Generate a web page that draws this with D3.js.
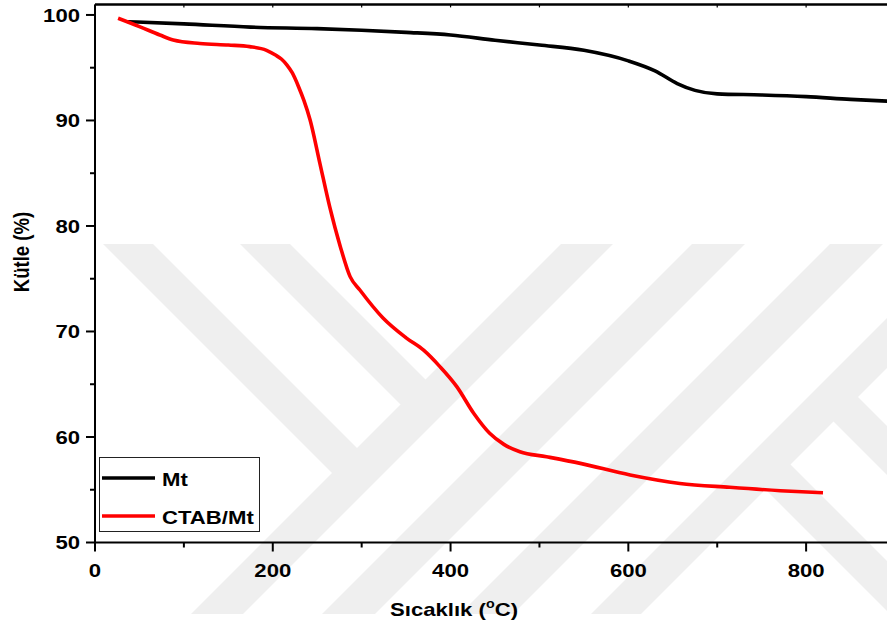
<!DOCTYPE html>
<html>
<head>
<meta charset="utf-8">
<script src="https://cdn.jsdelivr.net/npm/d3@7"></script>
<style>
  html, body { margin: 0; padding: 0; background: #fff; }
  svg { display: block; font-family: "Liberation Sans", Arial, sans-serif; font-weight: bold; }
</style>
</head>
<body>
<svg id="chart" width="887" height="628"></svg>
<script>
// TGA curves: temperature (°C) vs remaining mass (%)
const mtTemp = [37, 100, 175, 250, 300, 350, 400, 450, 500, 550, 600, 630, 655, 675, 700, 750, 800, 850, 900];
const mtMass = [99.36, 99.15, 98.85, 98.7, 98.55, 98.35, 98.1, 97.6, 97.15, 96.65, 95.65, 94.7, 93.5, 92.85, 92.52, 92.42, 92.26, 92.0, 91.8];

const ctabTemp = [26, 50, 73, 88, 118, 150, 174, 193, 203, 210, 216, 222, 229, 235, 242, 253, 264, 276, 287, 298, 324, 350, 370, 388, 407, 426, 444, 460, 478, 508, 546, 602, 658, 714, 771, 819];
const ctabMass = [99.69, 98.9, 98.1, 97.63, 97.3, 97.15, 97.0, 96.65, 96.2, 95.8, 95.25, 94.5, 93.2, 91.9, 90.05, 85.94, 81.83, 78.04, 75.2, 73.93, 71.28, 69.4, 68.2, 66.67, 64.77, 62.25, 60.35, 59.3, 58.6, 58.13, 57.5, 56.4, 55.6, 55.23, 54.91, 54.72];

const seriesNames = ["Mt", "CTAB/Mt"];
const seriesColors = ["#000000", "#ff0000"];

const xMajorTicks = [0, 200, 400, 600, 800];
const xMinorTicks = [100, 300, 500, 700];
const yMajorTicks = [50, 60, 70, 80, 90, 100];
const yMinorTicks = [55, 65, 75, 85, 95];

const xTitle = "Sıcaklık (";
const yTitle = "Kütle (%)";

const svg = d3.select("#chart");

const plotL = 95, plotT = 4.4, plotB = 542.5, plotR = 895;
const x = d3.scaleLinear().domain([0, 900]).range([plotL, plotR]);
const y = d3.scaleLinear().domain([50, 101]).range([plotB, plotT]);

// the lettering is a wide bold face: Arial bold stretched horizontally
const FS = 18.6, WIDE = 1.19;
function wideText(parent, px, py, anchor) {
  return parent.append("text")
    .attr("transform", `translate(${px},${py}) scale(${WIDE},1)`)
    .attr("text-anchor", anchor).attr("font-size", FS);
}

// faint background watermark of diagonal bands
const wm = svg.append("g").attr("fill", "#efefef");
const wy0 = 244, wy1 = 614;
// "/" bands given by x + y = c0 .. c1
[[805, 857], [936, 989], [1074, 1127], [1205, 1255]].forEach(([c0, c1]) => {
  wm.append("polygon").attr("points", [[c0 - wy0, wy0], [c1 - wy0, wy0], [c1 - wy1, wy1], [c0 - wy1, wy1]].join(" "));
});
// "\" bands x - y = k0 .. k1 between two "/" lines
function backBand(k0, k1, cStart, cEnd) {
  const p = (k, c) => [(k + c) / 2, (c - k) / 2];
  return [p(k0, cStart), p(k1, cStart), p(k1, cEnd), p(k0, cEnd)];
}
[[-141, -91], [-4, 46]].forEach(([k0, k1]) => {
  const ptsTop = [[k0 + wy0, wy0], [k1 + wy0, wy0]];
  const ptsEnd = [[(k1 + 857) / 2, (857 - k1) / 2], [(k0 + 805) / 2, (805 - k0) / 2]];
  wm.append("polygon").attr("points", ptsTop.concat(ptsEnd).join(" "));
});
[[276, 326], [412, 461]].forEach(([k0, k1]) => {
  wm.append("polygon").attr("points", backBand(k0, k1, 1230, 1560).join(" "));
});

// axes frame lines
const axisG = svg.append("g").attr("stroke", "#000").attr("stroke-width", 2);
axisG.append("line").attr("x1", plotL).attr("x2", plotL).attr("y1", plotT).attr("y2", plotB);
axisG.append("line").attr("x1", plotL).attr("x2", plotR).attr("y1", plotB).attr("y2", plotB);
axisG.append("line").attr("x1", plotL).attr("x2", plotR).attr("y1", plotT).attr("y2", plotT).attr("stroke-width", 2.5);

// tick marks
axisG.selectAll(".yt").data(yMajorTicks).join("line")
  .attr("x1", plotL - 9).attr("x2", plotL).attr("y1", d => y(d)).attr("y2", d => y(d));
axisG.selectAll(".ytm").data(yMinorTicks).join("line")
  .attr("x1", plotL - 5).attr("x2", plotL).attr("y1", d => y(d)).attr("y2", d => y(d));
axisG.selectAll(".xt").data(xMajorTicks).join("line")
  .attr("x1", d => x(d)).attr("x2", d => x(d)).attr("y1", plotB).attr("y2", plotB + 9);
axisG.selectAll(".xtm").data(xMinorTicks).join("line")
  .attr("x1", d => x(d)).attr("x2", d => x(d)).attr("y1", plotB).attr("y2", plotB + 5);
axisG.selectAll(".xtt").data(xMajorTicks.concat(xMinorTicks)).join("line")
  .attr("stroke-width", 1.2)
  .attr("x1", d => x(d)).attr("x2", d => x(d)).attr("y1", plotT).attr("y2", plotT + 3);

// tick labels
yMajorTicks.forEach(v => {
  wideText(svg, plotL - 15, y(v) + 6.7, "end").text(v);
});
xMajorTicks.forEach(v => {
  wideText(svg, x(v), plotB + 34.5, "middle").text(v);
});

// axis titles
const xt = wideText(svg, 454, 616, "middle");
xt.append("tspan").text(xTitle);
xt.append("tspan").attr("font-size", 12).attr("dy", -8).text("o");
xt.append("tspan").attr("dy", 8).text("C)");
svg.append("text").attr("transform", `translate(29,252) rotate(-90) scale(1,${WIDE})`)
  .attr("text-anchor", "middle").attr("font-size", FS).text(yTitle);

// curves
const line = d3.line().x(d => x(d[0])).y(d => y(d[1])).curve(d3.curveMonotoneX);
const series = [d3.zip(mtTemp, mtMass), d3.zip(ctabTemp, ctabMass)];
svg.append("g").selectAll("path").data(series).join("path")
  .attr("d", line).attr("fill", "none")
  .attr("stroke", (d, i) => seriesColors[i]).attr("stroke-width", 3.6)
  .attr("stroke-linejoin", "round");

// legend
const lg = svg.append("g");
lg.append("rect").attr("x", 99.5).attr("y", 457.5).attr("width", 160).attr("height", 74)
  .attr("fill", "#fff").attr("stroke", "#222").attr("stroke-width", 1);
seriesNames.forEach((name, i) => {
  const ly = 478 + i * 38;
  lg.append("line").attr("x1", 102).attr("x2", 155).attr("y1", ly).attr("y2", ly)
    .attr("stroke", seriesColors[i]).attr("stroke-width", 3.6);
  wideText(lg, 162, ly + 8, "start").text(name);
});
</script>
</body>
</html>
